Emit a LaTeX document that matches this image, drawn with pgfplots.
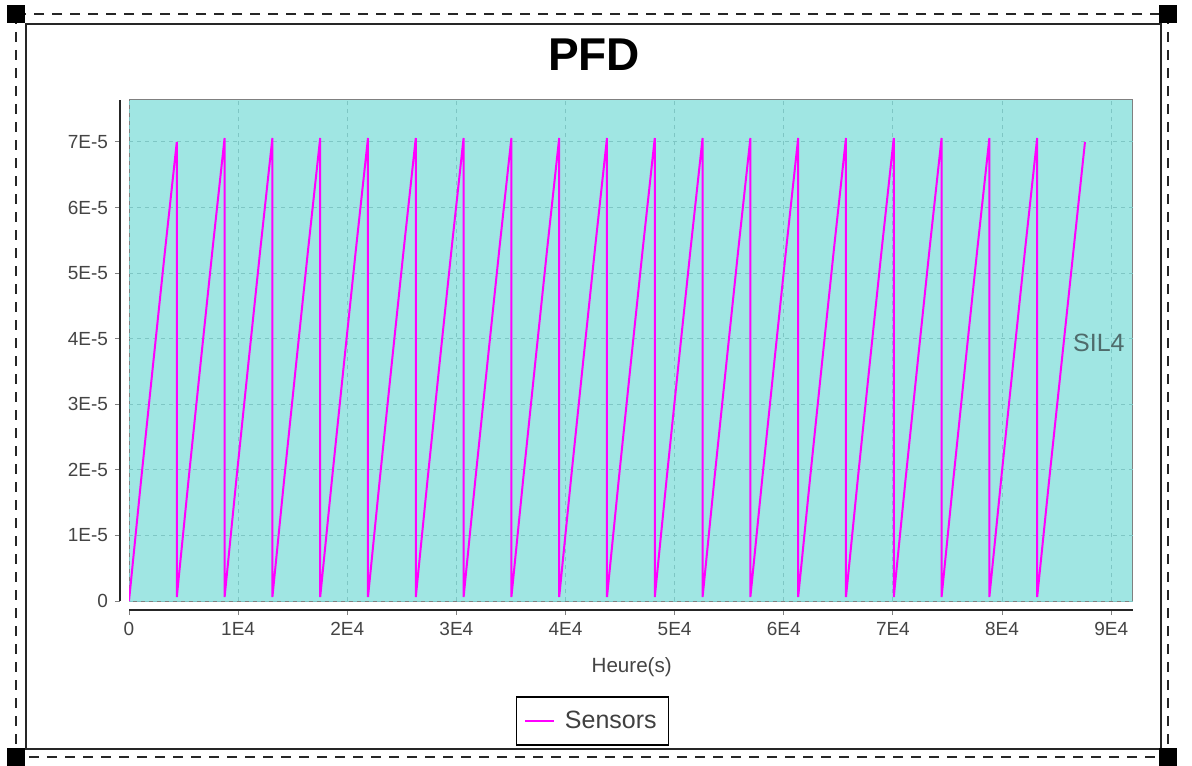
\documentclass[border=0pt]{standalone}
\usepackage{fontspec}
\setmainfont{Liberation Sans}
\usepackage{pgfplots}
\pgfplotsset{compat=1.18}
\definecolor{plotbg}{HTML}{A0E6E3}
\definecolor{gridc}{HTML}{7EC6C4}
\definecolor{sensor}{HTML}{FF00FF}
\definecolor{ticktxt}{HTML}{444444}
\definecolor{siltxt}{HTML}{4F6B6B}

\begin{document}
\begin{tikzpicture}
\begin{axis}[
  scale only axis,
  width=502pt, height=250.5pt,
  at={(64.5pt,-300.5pt)}, anchor=south west,
  xmin=0, xmax=92000,
  ymin=0, ymax=7.64e-5,
  axis x line=bottom, axis y line=left,
  axis line shift=4.5pt,
  axis line style={-, draw=black!85, line width=1pt},
  axis background/.style={fill=plotbg, draw=gray, line width=0.5pt},
  xtick={0,10000,20000,30000,40000,50000,60000,70000,80000,90000},
  xticklabels={0,1E4,2E4,3E4,4E4,5E4,6E4,7E4,8E4,9E4},
  ytick={0,1e-5,2e-5,3e-5,4e-5,5e-5,6e-5,7e-5},
  yticklabels={0,1E-5,2E-5,3E-5,4E-5,5E-5,6E-5,7E-5},
  scaled ticks=false,
  tick align=outside,
  major tick length=2.5pt,
  tick style={draw=gray, line width=0.5pt},
  ticklabel style={font=\fontsize{9.5}{11}\selectfont, text=ticktxt},
  grid=major,
  major grid style={draw=gridc, dash pattern=on 2pt off 2pt, line width=0.5pt},
  xlabel={Heure(s)},
  every axis x label/.style={at={(axis description cs:0.5007,-0.143)}, anchor=base,
    font=\fontsize{10.3}{12}\selectfont, text=ticktxt},
  legend style={at={(0.4617,-0.2395)}, anchor=center, draw=black, line width=0.8pt,
    font=\fontsize{12.5}{14}\selectfont, text=black!75, inner xsep=4pt, inner ysep=5pt,
    /tikz/every odd column/.append style={column sep=3pt}},
  legend image code/.code={\draw[#1, line width=0.75pt] (0pt,0pt) -- (14.5pt,0pt);},
]
\addplot[sensor, line width=1pt] coordinates {
  (0,0) (1095,1.82e-5) (2190,3.58e-5) (3285,5.32e-5) (4380,7.00e-5) (4380,0.06e-5)
  (5475,1.88e-5) (6570,3.64e-5) (7665,5.38e-5) (8760,7.06e-5) (8760,0.06e-5)
  (9855,1.88e-5) (10950,3.64e-5) (12045,5.38e-5) (13140,7.06e-5) (13140,0.06e-5)
  (14235,1.88e-5) (15330,3.64e-5) (16425,5.38e-5) (17520,7.06e-5) (17520,0.06e-5)
  (18615,1.88e-5) (19710,3.64e-5) (20805,5.38e-5) (21900,7.06e-5) (21900,0.06e-5)
  (22995,1.88e-5) (24090,3.64e-5) (25185,5.38e-5) (26280,7.06e-5) (26280,0.06e-5)
  (27375,1.88e-5) (28470,3.64e-5) (29565,5.38e-5) (30660,7.06e-5) (30660,0.06e-5)
  (31755,1.88e-5) (32850,3.64e-5) (33945,5.38e-5) (35040,7.06e-5) (35040,0.06e-5)
  (36135,1.88e-5) (37230,3.64e-5) (38325,5.38e-5) (39420,7.06e-5) (39420,0.06e-5)
  (40515,1.88e-5) (41610,3.64e-5) (42705,5.38e-5) (43800,7.06e-5) (43800,0.06e-5)
  (44895,1.88e-5) (45990,3.64e-5) (47085,5.38e-5) (48180,7.06e-5) (48180,0.06e-5)
  (49275,1.88e-5) (50370,3.64e-5) (51465,5.38e-5) (52560,7.06e-5) (52560,0.06e-5)
  (53655,1.88e-5) (54750,3.64e-5) (55845,5.38e-5) (56940,7.06e-5) (56940,0.06e-5)
  (58035,1.88e-5) (59130,3.64e-5) (60225,5.38e-5) (61320,7.06e-5) (61320,0.06e-5)
  (62415,1.88e-5) (63510,3.64e-5) (64605,5.38e-5) (65700,7.06e-5) (65700,0.06e-5)
  (66795,1.88e-5) (67890,3.64e-5) (68985,5.38e-5) (70080,7.06e-5) (70080,0.06e-5)
  (71175,1.88e-5) (72270,3.64e-5) (73365,5.38e-5) (74460,7.06e-5) (74460,0.06e-5)
  (75555,1.88e-5) (76650,3.64e-5) (77745,5.38e-5) (78840,7.06e-5) (78840,0.06e-5)
  (79935,1.88e-5) (81030,3.64e-5) (82125,5.38e-5) (83220,7.06e-5) (83220,0.06e-5)
  (84315,1.84e-5) (85410,3.56e-5) (86505,5.28e-5) (87600,7.00e-5)
};
\addlegendentry{Sensors}
\node[anchor=east, inner sep=0pt, font=\fontsize{12.5}{14}\selectfont, text=siltxt]
  at (rel axis cs:0.992,0.515) {SIL4};
\end{axis}
% chart frame and selection handles, in pixel units of the 1192x765 reference
\begin{scope}[x=0.5pt, y=-0.5pt]
  \draw[black!85, line width=1pt] (26,24) rectangle (1161,749);
  \draw[black!85, line width=1pt, dash pattern=on 5pt off 4pt] (16,14) rectangle (1168,757);
  \foreach \cx/\cy in {16/14, 1168/14, 16/757, 1168/757}
    \fill[black] (\cx-9,\cy-9) rectangle (\cx+9,\cy+9);
  \node[anchor=base, font=\fontsize{23}{26}\selectfont\bfseries] at (594,71) {PFD};
\end{scope}
\pgfresetboundingbox
\path (0pt,0pt) rectangle (596pt,-382.5pt);
\end{tikzpicture}
\end{document}
